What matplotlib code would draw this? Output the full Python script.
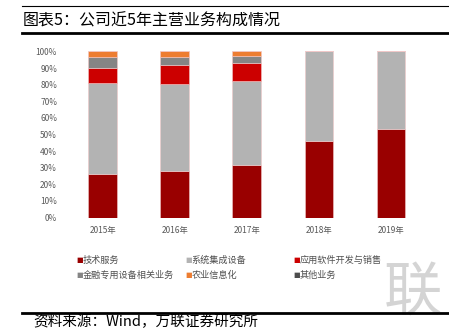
import matplotlib
matplotlib.use('Agg')
import matplotlib.pyplot as plt
import numpy as np

plt.rcParams['font.family'] = ['Noto Sans CJK SC', 'DejaVu Sans']

# business mix by year, share of revenue (%)
years = ['2015年', '2016年', '2017年', '2018年', '2019年']
tech_service = [26.1, 28.3, 31.8, 46.2, 53.2]
system_integration = [54.9, 52.1, 50.4, 53.8, 46.8]
app_software = [9.2, 11.6, 11.0, 0, 0]
finance_equipment = [6.4, 4.6, 4.0, 0, 0]
agri_info = [3.4, 3.4, 2.8, 0, 0]
other_business = [0, 0, 0, 0, 0]

series_names = ['技术服务', '系统集成设备', '应用软件开发与销售',
                '金融专用设备相关业务', '农业信息化', '其他业务']
series_vals = [tech_service, system_integration, app_software,
               finance_equipment, agri_info, other_business]
colors = ['#990000', '#B3B3B3', '#CC0000', '#858585', '#ED7D31', '#4D4D4D']

fig = plt.figure(figsize=(4.49, 3.29), dpi=100)

# faint watermark in the lower right corner
fig.text(0.92, 0.105, '联', fontsize=42, color='#d4d4d4',
         ha='center', va='center', zorder=0)

ax = fig.add_axes([0.1488, 0.3389, 0.8022, 0.5046])
ax.set_zorder(2)
ax.patch.set_alpha(0)

x = np.arange(len(years))
bottom = np.zeros(len(years))
for vals, c in zip(series_vals, colors):
    v = np.array(vals) / 100.0
    ax.bar(x, v, 0.40, bottom=bottom, color=c, edgecolor='#f2c8c8',
           linewidth=0.4)
    bottom += v

ax.set_xlim(-0.5, 4.5)
ax.set_ylim(0, 1.0)
ax.set_yticks(np.arange(0, 1.01, 0.1))
ax.set_yticklabels(['%d%%' % v for v in range(0, 101, 10)])
ax.set_xticks(x)
ax.set_xticklabels(years)
ax.tick_params(length=0, labelsize=6, colors='#595959', pad=6)
ax.tick_params(axis='y', pad=7)
for s in ax.spines.values():
    s.set_visible(False)

# legend, laid out on a fixed grid
leg_x = [0.169, 0.412, 0.653]
leg_y = [0.210, 0.164]
for i, (name, c) in enumerate(zip(series_names, colors)):
    r, k = divmod(i, 3)
    fig.text(leg_x[k], leg_y[r], '■', color=c, fontsize=5,
             ha='left', va='center', family='DejaVu Sans')
    fig.text(leg_x[k] + 0.015, leg_y[r], name, color='#505050', fontsize=6.6,
             ha='left', va='center')

# header and footer rules
fig.add_artist(plt.Line2D([0.049, 1.0], [0.981, 0.981], color='black', lw=0.8))
fig.add_artist(plt.Line2D([0.049, 1.0], [0.899, 0.899], color='black', lw=2.0))
fig.text(0.051, 0.935, '图表5：公司近5年主营业务构成情况', fontsize=11.5,
         ha='left', va='center', color='black')

fig.add_artist(plt.Line2D([0.049, 1.0], [0.049, 0.049], color='black', lw=2.0))
fig.text(0.073, 0.022, '资料来源：Wind，万联证券研究所', fontsize=10.5,
         ha='left', va='center', color='black', style='italic')

fig.savefig('out.png', dpi=100)
